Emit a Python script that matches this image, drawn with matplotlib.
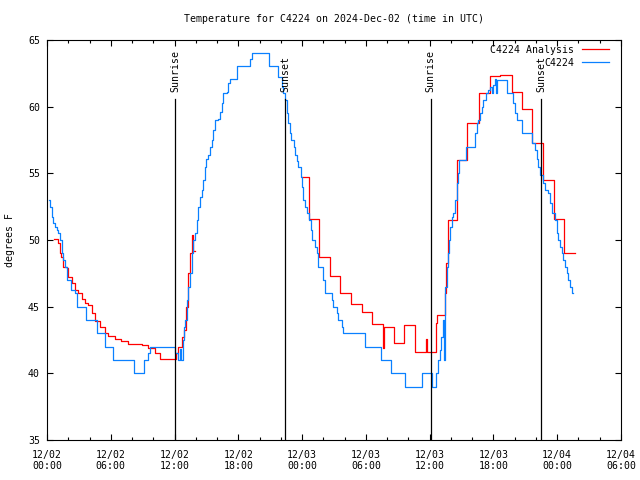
import matplotlib
matplotlib.use("Agg")
import matplotlib.pyplot as plt
import matplotlib.dates as mdates
import numpy as np
import pandas as pd

# ---------------- data ----------------
start = pd.Timestamp("2024-12-02 00:00")
end = pd.Timestamp("2024-12-04 06:00")

# Observations (C4224): hours since 2024-12-02 00:00 UTC, temperature (F)
obs_hours = [0.15, 0.3, 0.44, 0.6, 0.75, 0.9, 1.07, 1.2, 1.38, 1.55, 1.69, 1.85,
             2.3, 2.6, 2.8, 3.7, 4.7, 5.5, 6.2, 8.2, 9.15, 9.47, 9.7,
             12.05, 12.3, 12.5, 12.6, 12.75, 12.85, 13.0, 13.14, 13.3, 13.45, 13.6,
             13.77, 13.9, 14.08, 14.23, 14.4, 14.55, 14.7, 14.86, 15.0, 15.17, 15.33,
             15.5, 15.65, 15.8, 16.1, 16.27, 16.43, 16.6, 16.9, 17.06, 17.2, 17.85,
             19.1, 19.26, 20.9, 21.76, 21.9, 22.07, 22.2, 22.4, 22.55, 22.7, 22.86,
             23.0, 23.2, 23.33, 23.5, 23.64, 23.86, 24.02, 24.1, 24.27, 24.43, 24.68,
             24.8, 24.96, 25.2, 25.37, 25.52, 26.0, 26.15, 26.78, 26.94, 27.25, 27.4,
             27.72, 27.8, 29.9, 31.4, 32.4, 33.7, 35.25, 36.25, 36.6, 36.8, 36.97,
             37.1, 37.3, 37.38, 37.44, 37.6, 37.7, 37.8, 37.9, 38.07, 38.2, 38.38,
             38.54, 38.64, 38.8, 39.38, 40.26, 40.42, 40.57, 40.73, 40.9, 41.05, 41.27,
             41.5, 41.68, 41.85, 42.0, 42.14, 42.25, 42.35, 43.24, 43.87, 44.03, 44.18,
             44.7, 45.66, 45.9, 46.06, 46.2, 46.37, 46.68, 46.84, 47.15, 47.3, 47.47,
             47.8, 47.95, 48.1, 48.26, 48.42, 48.57, 48.73, 48.9, 49.05, 49.2, 49.36,
             49.45]
obs_temp = [53.0, 52.5, 51.75, 51.25, 51.0, 50.75, 50.5, 50.0, 49.0, 48.5, 48.0, 47.0,
            46.25, 46.0, 45.0, 44.0, 43.0, 42.0, 41.0, 40.0, 41.0, 41.5, 42.0,
            41.5, 41.0, 41.8, 41.0, 42.5, 43.5, 44.0, 45.5, 46.5, 47.5, 49.0,
            50.0, 50.5, 51.5, 52.5, 53.25, 53.75, 54.5, 55.5, 56.1, 56.4, 57.0,
            57.5, 58.25, 59.0, 59.1, 59.6, 60.25, 61.05, 61.1, 61.75, 62.05, 63.05,
            63.6, 64.05, 63.05, 62.25, 62.25, 61.5, 61.0, 60.5, 59.5, 58.75, 58.0,
            57.5, 57.0, 56.4, 55.9, 55.5, 54.75, 54.0, 53.0, 52.5, 52.0, 51.5,
            50.75, 50.0, 49.5, 49.0, 48.0, 47.0, 46.0, 45.5, 45.0, 44.5, 44.0,
            43.5, 43.0, 42.0, 41.0, 40.0, 39.0, 40.0, 39.0, 40.0, 41.0, 41.75,
            42.75, 44.0, 41.0, 46.5, 48.0, 49.0, 50.0, 51.0, 51.75, 52.0, 53.0,
            54.25, 55.0, 56.0, 57.0, 58.0, 58.75, 59.0, 59.5, 60.0, 60.5, 61.0,
            61.25, 61.5, 61.0, 61.6, 62.1, 61.0, 62.0, 61.0, 60.25, 59.5, 59.0,
            58.0, 57.25, 56.75, 56.1, 55.5, 54.9, 54.25, 53.75, 53.5, 52.75, 52.0,
            51.5, 50.5, 50.0, 49.5, 49.0, 48.5, 48.0, 47.5, 47.0, 46.5, 46.0,
            46.0]

# Analysis (C4224 Analysis): hours since 2024-12-02 00:00 UTC, temperature (F)
ana_hours = [0.7, 1.07, 1.2, 1.3, 1.53, 1.85, 2.0, 2.32, 2.63, 2.95, 3.26, 3.57, 3.9,
             4.2, 4.5, 5.0, 5.45, 5.77, 6.4, 7.0, 7.65, 8.9, 9.5, 10.15, 10.6,
             12.1, 12.35, 12.67, 12.9, 13.08, 13.3, 13.5, 13.67, 13.75, 13.9,
             23.96, 24.65, 25.6, 26.6, 27.6, 28.6, 29.63, 30.55, 31.65, 31.75,
             32.65, 33.6, 34.6, 35.65, 35.75, 36.62, 36.72, 37.4, 37.55, 37.7,
             38.6, 39.55, 40.65, 41.65, 42.65, 43.7, 44.68, 45.65, 46.7, 47.65,
             48.65, 49.67]
ana_temp = [50.1, 49.75, 49.0, 48.75, 48.0, 47.9, 47.25, 46.75, 46.25, 46.0, 45.6, 45.25, 45.1,
            44.5, 43.9, 43.5, 43.0, 42.8, 42.6, 42.4, 42.2, 42.1, 41.9, 41.5, 41.1,
            41.5, 42.0, 42.75, 43.25, 45.0, 47.5, 49.0, 50.4, 49.2, np.nan,
            54.7, 51.55, 48.75, 47.3, 46.05, 45.2, 44.6, 43.7, 41.9, 43.5,
            42.25, 43.6, 41.6, 42.6, 41.6, 43.75, 44.4, 46.0, 48.25, 51.5,
            56.0, 58.75, 61.0, 62.3, 62.4, 61.1, 59.8, 57.25, 54.5, 51.6,
            49.0, 49.0]

sun_labels = ["Sunrise", "Sunset", "Sunrise", "Sunset"]
sun_times = ["2024-12-02 12:03", "2024-12-02 22:24", "2024-12-03 12:05", "2024-12-03 22:28"]

title = "Temperature for C4224 on 2024-Dec-02 (time in UTC)"
ana_label = "C4224 Analysis"
obs_label = "C4224"

# ---------------- plot ----------------
FONT = ["DejaVu Sans Mono"]
FS = 7.1
plt.rcParams["font.family"] = FONT
plt.rcParams["font.size"] = FS

fig = plt.figure(figsize=(6.4, 4.8), dpi=100)
ax = fig.add_axes([47 / 640, 40 / 480, 574 / 640, 400 / 480])

obs_t = start + pd.to_timedelta(obs_hours, unit="h")
ana_t = start + pd.to_timedelta(ana_hours, unit="h")

red = "#ff0000"
blue = "#0a80ff"
ax.plot(ana_t, ana_temp, drawstyle="steps-post", color=red, lw=0.9, zorder=3)
ax.plot(obs_t, obs_temp, drawstyle="steps-post", color=blue, lw=0.9, zorder=4)

trans = matplotlib.transforms.blended_transform_factory(ax.transData, ax.transAxes)
for lab, t in zip(sun_labels, sun_times):
    tt = pd.Timestamp(t)
    ax.plot([tt, tt], [0, 0.852], color="black", lw=0.9, transform=trans, zorder=5)
    ax.text(tt, 0.87, lab, rotation=90, ha="center", va="bottom",
            transform=trans, fontsize=FS, zorder=6)

ax.set_xlim(start, end)
ax.set_ylim(35, 65)
ax.set_yticks([35, 40, 45, 50, 55, 60, 65])

ax.xaxis.set_major_locator(mdates.HourLocator(byhour=[0, 6, 12, 18]))
ax.xaxis.set_minor_locator(mdates.HourLocator(byhour=range(0, 24, 2)))
ax.xaxis.set_major_formatter(mdates.DateFormatter("%m/%d\n%H:%M"))

ax.tick_params(which="both", direction="in", top=True, right=True, width=0.8,
               labelsize=FS)
ax.tick_params(which="major", length=4.5)
ax.tick_params(which="minor", length=2.5)
ax.tick_params(axis="x", which="major", pad=7)
ax.tick_params(axis="y", which="major", pad=5)
for s in ax.spines.values():
    s.set_linewidth(0.8)

fig.text(334 / 640, 1 - 19 / 480, title, ha="center", va="center", fontsize=FS)
fig.text(10 / 640, 0.5, "degrees F", rotation=90, ha="center", va="center", fontsize=FS)

# legend (top-right, text right of sample)
leg_rows = [(ana_label, red, 0.975), (obs_label, blue, 0.9425)]
for lab, c, yy in leg_rows:
    ax.text(0.918, yy, lab, ha="right", va="center", transform=ax.transAxes, fontsize=FS)
    ax.plot([0.932, 0.979], [yy + 0.0025, yy + 0.0025], color=c, lw=0.9,
            transform=ax.transAxes, clip_on=False, zorder=7)

fig.savefig("out.png", dpi=100)
